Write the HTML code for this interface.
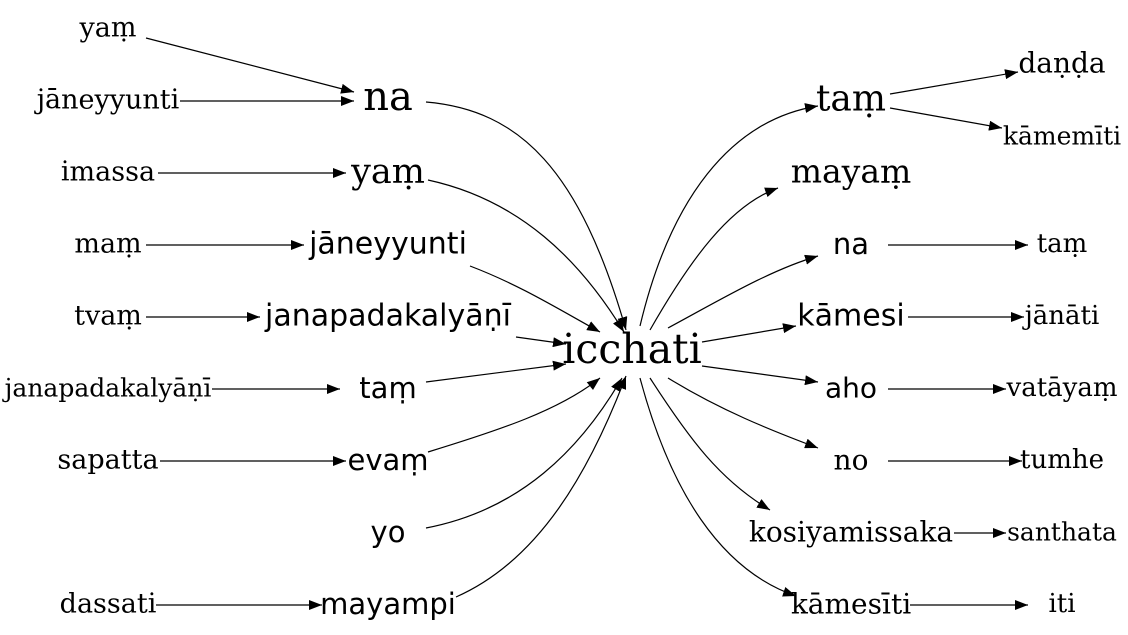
<!DOCTYPE html>
<html><head><meta charset="utf-8"><style>
html,body{margin:0;padding:0;background:#fff}
svg{display:block}
.s{font-family:"DejaVu Serif","Liberation Serif",serif}
.a{font-family:"DejaVu Sans","Liberation Sans",sans-serif}
text{text-anchor:middle;dominant-baseline:central;fill:#000}
path{fill:none;stroke:#000;stroke-width:1.2}
</style></head><body>
<svg width="1128" height="635" viewBox="0 0 1128 635">
<defs><marker id="ar" markerUnits="userSpaceOnUse" markerWidth="14" markerHeight="10" refX="13" refY="5" orient="auto"><path d="M0,0 L13,5 L0,10 Z" style="fill:#000;stroke:none"/></marker></defs>
<g>
<path d="M146,38 L354,92" marker-end="url(#ar)"/>
<path d="M180,101 L354,101" marker-end="url(#ar)"/>
<path d="M158,173 L346,173" marker-end="url(#ar)"/>
<path d="M146,245 L304,245" marker-end="url(#ar)"/>
<path d="M146,317 L260,317" marker-end="url(#ar)"/>
<path d="M212,389 L340,389" marker-end="url(#ar)"/>
<path d="M160,461 L346,461" marker-end="url(#ar)"/>
<path d="M156,605 L322,605" marker-end="url(#ar)"/>
<path d="M426,102 C520,110 580,170 626,330" marker-end="url(#ar)"/>
<path d="M428,180 C520,200 580,260 624,332" marker-end="url(#ar)"/>
<path d="M470,266 C520,285 560,310 600,332" marker-end="url(#ar)"/>
<path d="M516,337 L566,344" marker-end="url(#ar)"/>
<path d="M426,382 L566,364" marker-end="url(#ar)"/>
<path d="M428,452 C500,430 560,410 600,378" marker-end="url(#ar)"/>
<path d="M426,528 C520,510 580,450 622,378" marker-end="url(#ar)"/>
<path d="M456,597 C540,560 590,470 626,376" marker-end="url(#ar)"/>
<path d="M640,326 C670,200 730,120 818,106" marker-end="url(#ar)"/>
<path d="M650,330 C690,260 730,205 778,188" marker-end="url(#ar)"/>
<path d="M668,328 C720,300 770,270 818,256" marker-end="url(#ar)"/>
<path d="M702,342 L796,326" marker-end="url(#ar)"/>
<path d="M702,366 L818,382" marker-end="url(#ar)"/>
<path d="M668,378 C720,410 770,430 818,448" marker-end="url(#ar)"/>
<path d="M650,378 C690,440 720,480 770,510" marker-end="url(#ar)"/>
<path d="M640,378 C670,490 720,570 796,596" marker-end="url(#ar)"/>
<path d="M890,94 L1018,72" marker-end="url(#ar)"/>
<path d="M890,108 L1002,128" marker-end="url(#ar)"/>
<path d="M888,245 L1028,245" marker-end="url(#ar)"/>
<path d="M908,317 L1024,317" marker-end="url(#ar)"/>
<path d="M888,389 L1006,389" marker-end="url(#ar)"/>
<path d="M888,461 L1022,461" marker-end="url(#ar)"/>
<path d="M954,533 L1006,533" marker-end="url(#ar)"/>
<path d="M910,605 L1028,605" marker-end="url(#ar)"/>
</g>
<g class="s" font-size="27">
<text x="108" y="28">yaṃ</text>
<text x="108" y="100">jāneyyunti</text>
<text x="108" y="172">imassa</text>
<text x="108" y="244">maṃ</text>
<text x="108" y="316">tvaṃ</text>
<text x="108" y="388" font-size="25">janapadakalyāṇī</text>
<text x="108" y="460">sapatta</text>
<text x="108" y="604">dassati</text>
</g>
<g>
<text class="s" x="388" y="97" font-size="40">na</text>
<text class="s" x="388" y="172" font-size="35">yaṃ</text>
<text class="a" x="388" y="244" font-size="30">jāneyyunti</text>
<text class="a" x="388" y="316" font-size="30">janapadakalyāṇī</text>
<text class="a" x="388" y="388" font-size="29">taṃ</text>
<text class="a" x="388" y="460" font-size="29">evaṃ</text>
<text class="a" x="388" y="532" font-size="29">yo</text>
<text class="a" x="388" y="604" font-size="29">mayampi</text>
</g>
<text class="s" x="632" y="349" font-size="41">icchati</text>
<g>
<text class="s" x="851" y="99" font-size="36">taṃ</text>
<text class="s" x="851" y="171" font-size="33">mayaṃ</text>
<text class="a" x="851" y="244" font-size="29">na</text>
<text class="a" x="851" y="316" font-size="30">kāmesi</text>
<text class="a" x="851" y="388" font-size="28">aho</text>
<text x="851" y="460" font-size="28" style="font-family:'DejaVu Serif','Liberation Serif',serif">no</text>
<text x="851" y="532" font-size="28" style="font-family:'DejaVu Serif','Liberation Serif',serif">kosiyamissaka</text>
<text x="851" y="604" font-size="28" style="font-family:'DejaVu Serif','Liberation Serif',serif">kāmesīti</text>
</g>
<g class="s" font-size="26">
<text x="1062" y="63" font-size="28">daṇḍa</text>
<text x="1062" y="136" font-size="25">kāmemīti</text>
<text x="1062" y="244">taṃ</text>
<text x="1062" y="316">jānāti</text>
<text x="1062" y="388">vatāyaṃ</text>
<text x="1062" y="460">tumhe</text>
<text x="1062" y="532" font-size="25">santhata</text>
<text x="1062" y="604">iti</text>
</g>
</svg>
</body></html>
